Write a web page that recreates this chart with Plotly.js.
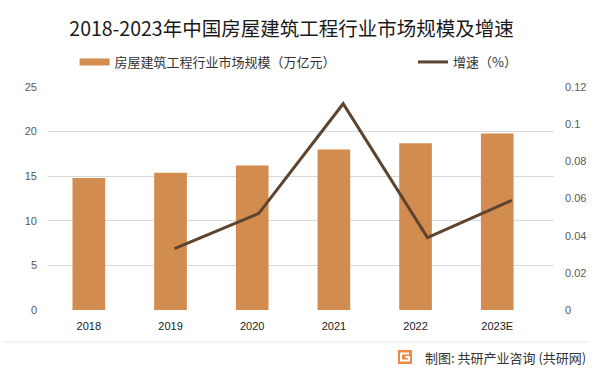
<!DOCTYPE html>
<html><head><meta charset="utf-8">
<script src="https://cdn.plot.ly/plotly-3.0.1.min.js"></script>
<style>html,body{margin:0;padding:0;background:#fff;}#chart{width:602px;height:374px;}</style>
</head><body><div id="chart"></div>
<script>
const years = ['2018','2019','2020','2021','2022','2023E'];
const marketSize = [14.8, 15.4, 16.2, 18.0, 18.7, 19.8];
const growthYears = ['2019','2020','2021','2022','2023E'];
const growthRate = [0.033, 0.052, 0.111, 0.039, 0.059];
const labelYear = '2022';
const labelValue = 18.7;
const seriesNames = ['房屋建筑工程行业市场规模（万亿元）', '增速（%）'];

const cjk = '"Noto Sans CJK SC", "Liberation Sans", sans-serif';
const num = '"Liberation Sans", "Noto Sans CJK SC", sans-serif';
const barColor = '#d38c4f';
const lineColor = '#5e432e';

function px2x(p){return (p-48)/506;}
function py2y(p){return (310-p)/223;}

const traces = [
  {type:'bar', name:seriesNames[0], x:years, y:marketSize, showlegend:false,
   marker:{color:barColor}, width:0.4, xaxis:'x', yaxis:'y', hoverinfo:'skip'},
  // legend swatch for the bar series (flat wide swatch as in the original)
  {type:'scatter', mode:'lines', name:seriesNames[0], x:[null], y:[null],
   line:{color:barColor, width:7}, xaxis:'x', yaxis:'y', legend:'legend', hoverinfo:'skip'},
  {type:'scatter', mode:'lines', name:seriesNames[1], x:growthYears, y:growthRate,
   line:{color:lineColor, width:3}, xaxis:'x2', yaxis:'y2', legend:'legend2', hoverinfo:'skip'}
];

const legendCommon = {orientation:'h', yanchor:'middle', y:py2y(62), xanchor:'left', itemwidth:30,
  font:{family:cjk, size:13, color:'#333'}, bgcolor:'rgba(0,0,0,0)', borderwidth:0};

const layout = {
  width:602, height:374,
  margin:{l:48, r:48, t:87, b:64},
  paper_bgcolor:'#fff', plot_bgcolor:'#fff',
  showlegend:true,
  title:{text:'2018-2023年中国房屋建筑工程行业市场规模及增速', x:291.5/602, xanchor:'center', y:1-29/374, yanchor:'middle',
         font:{family:cjk, size:19.5, color:'#1a1a1a'}},
  legend:Object.assign({}, legendCommon, {x:px2x(74.6)}),
  legend2:Object.assign({}, legendCommon, {x:px2x(413)}),
  xaxis:{type:'category', range:[-0.5, 5.695], showgrid:false, zeroline:false, showline:false,
         ticks:'', ticklabelstandoff:8, tickfont:{family:num, size:11, color:'#1a1a1a'}, fixedrange:true},
  xaxis2:{type:'category', categoryarray:years, categoryorder:'array', range:[-0.5,5.5], overlaying:'x',
          visible:false, showgrid:false, zeroline:false, fixedrange:true},
  yaxis:{range:[0,25], dtick:5, showgrid:true, gridcolor:'#d9d9d9', gridwidth:1, zeroline:false, showline:false,
         ticks:'', ticklabelstandoff:10, tickfont:{family:num, size:11, color:'#595959'}, fixedrange:true},
  yaxis2:{range:[0,0.12], dtick:0.02, overlaying:'y', side:'right', showgrid:false, zeroline:false, showline:false,
          ticks:'', ticklabelstandoff:10, tickfont:{family:num, size:11, color:'#595959'}, fixedrange:true},
  annotations:[
    {x:labelYear, y:labelValue, xref:'x2', yref:'y', text:String(labelValue), showarrow:false,
     yanchor:'middle', yshift:15, font:{family:num, size:11, color:'#404040'}},
    {x:px2x(588), y:py2y(357), xref:'paper', yref:'paper', xanchor:'right', yanchor:'middle',
     text:'制图: 共研产业咨询 (共研网)', showarrow:false, font:{family:cjk, size:13, color:'#333'}}
  ],
  shapes:[
    {type:'line', xref:'paper', yref:'paper', x0:px2x(4), x1:px2x(588), y0:py2y(342), y1:py2y(342), line:{color:'#e6e6e6', width:1}},
    {type:'rect', xref:'paper', yref:'paper', x0:px2x(398), x1:px2x(412), y0:py2y(364), y1:py2y(350),
     fillcolor:'#f2874a', line:{width:0}},
    {type:'path', xref:'paper', yref:'paper',
     path:`M ${px2x(409)} ${py2y(353.5)} L ${px2x(401)} ${py2y(353.5)} L ${px2x(401)} ${py2y(360.5)} L ${px2x(409)} ${py2y(360.5)} L ${px2x(409)} ${py2y(357)} L ${px2x(405.5)} ${py2y(357)}`,
     line:{color:'#ffffff', width:2}}
  ]
};

Plotly.newPlot('chart', traces, layout, {staticPlot:true, displayModeBar:false});
</script></body></html>
